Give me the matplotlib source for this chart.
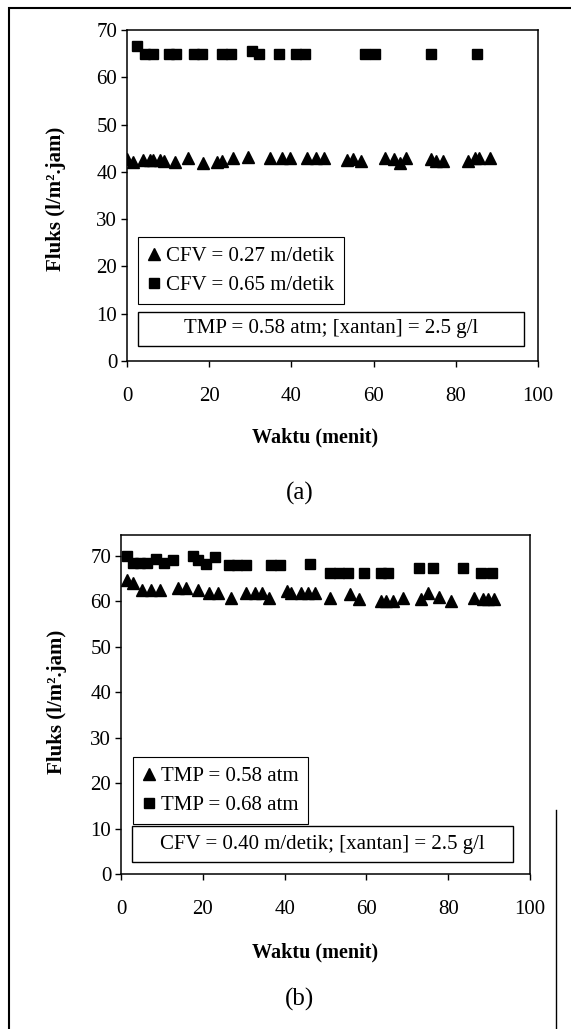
import numpy as np
import matplotlib
matplotlib.use('Agg')
import matplotlib.pyplot as plt
from matplotlib.lines import Line2D
from matplotlib.patches import Rectangle

plt.rcParams['font.family'] = 'Liberation Serif'

# (a) TMP = 0.58 atm, two CFV values
a_tri_x = [0.0, 1.4, 3.9, 5.5, 6.3, 8.0, 9.1, 11.7, 14.8, 18.5, 22.0, 23.2, 25.7, 29.4,
           34.8, 37.7, 39.7, 43.9, 45.9, 48.0, 53.6, 55.0, 57.0, 62.8, 64.9, 66.5, 67.8,
           73.9, 75.2, 76.8, 83.0, 84.7, 85.7, 88.2]
a_tri_y = [42.8, 42.0, 42.6, 42.6, 42.6, 42.6, 42.2, 42.0, 43.0, 41.8, 42.0, 42.4, 43.0, 43.2,
           43.0, 43.0, 43.0, 43.0, 43.0, 43.0, 42.6, 42.8, 42.2, 43.0, 42.8, 41.8, 43.0,
           42.8, 42.3, 42.3, 42.3, 43.0, 43.0, 43.0]
a_sq_x = [2.4, 4.3, 6.3, 10.1, 11.9, 16.2, 18.3, 23.2, 25.3, 30.3, 32.1, 36.9, 41.0, 43.4,
          57.9, 60.3, 73.9, 85.1]
a_sq_y = [66.6, 65, 65, 65, 65, 65, 65, 65, 65, 65.6, 65, 65, 65, 65, 65, 65, 65, 65]

# (b) CFV = 0.40 m/detik, two TMP values
b_tri_x = [1.5, 2.9, 5.1, 7.3, 9.5, 14.0, 15.8, 18.9, 21.6, 23.8, 26.9, 30.5, 32.7, 34.5,
           36.3, 40.7, 41.6, 43.9, 45.6, 47.4, 51.0, 55.9, 58.1, 63.5, 64.8, 66.6, 68.9,
           73.3, 75.1, 77.7, 80.8, 86.2, 88.4, 89.7, 91.1]
b_tri_y = [64.7, 64.0, 62.5, 62.5, 62.5, 63.0, 63.0, 62.5, 61.8, 61.8, 60.8, 61.8, 61.8, 61.8,
           60.8, 62.3, 61.8, 61.8, 61.8, 61.8, 60.8, 61.6, 60.5, 60.0, 60.0, 60.0, 60.8,
           60.5, 61.8, 61.0, 60.0, 60.8, 60.5, 60.5, 60.5]
b_sq_x = [1.5, 2.9, 4.6, 6.4, 8.6, 10.4, 12.7, 17.6, 18.9, 20.7, 22.9, 26.5, 28.3, 30.5,
          36.7, 38.9, 46.1, 51.0, 53.2, 55.4, 59.4, 63.5, 65.2, 72.8, 76.4, 83.5, 88.0, 90.6]
b_sq_y = [69.9, 68.4, 68.4, 68.5, 69.3, 68.4, 69.1, 70.0, 69.0, 68.2, 69.8, 68.0, 68.0, 68.0,
          68.0, 68.0, 68.2, 66.2, 66.2, 66.2, 66.2, 66.2, 66.2, 67.3, 67.3, 67.3, 66.2, 66.2]

W, H = 571, 1029
fig = plt.figure(figsize=(W / 100, H / 100), dpi=100)


def fx(px):
    return px / W


def fy(py):
    return 1 - py / H


def panel(box, ymax, tri, sq, labels, note, note_box, leg_xy, tag_y, tag, xlab_y, ylab_xy):
    left, top, right, bottom = box
    ax = fig.add_axes([fx(left), fy(bottom), fx(right) - fx(left), fy(top) - fy(bottom)])
    ax.plot(tri[0], tri[1], linestyle='none', marker='^', color='black', markersize=9,
            label=labels[0])
    ax.plot(sq[0], sq[1], linestyle='none', marker='s', color='black', markersize=7.5,
            label=labels[1])
    ax.set_xlim(0, 100)
    ax.set_ylim(0, ymax)
    ax.set_xticks(np.arange(0, 101, 20))
    ax.set_yticks(np.arange(0, 71, 10))
    ax.tick_params(direction='out', length=4, width=1, labelsize=15, pad=3)
    ax.tick_params(axis='x', pad=15)
    for s in ax.spines.values():
        s.set_linewidth(1.1)
    fig.text(fx(ylab_xy[0]), fy(ylab_xy[1]), 'Fluks (l/m\u00b2.jam)', fontsize=15,
             fontweight='bold', rotation=90, ha='center', va='center')
    fig.text(fx(315), fy(xlab_y), 'Waktu (menit)', fontsize=14.5, fontweight='bold',
             ha='center', va='center')
    fig.text(fx(300), fy(tag_y), tag, fontsize=18, ha='center', va='center')

    leg = ax.legend(loc='upper left', bbox_to_anchor=(fx(leg_xy[0]), fy(leg_xy[1])),
                    bbox_transform=fig.transFigure, borderaxespad=0, fontsize=15,
                    frameon=True, fancybox=False, edgecolor='black', framealpha=1,
                    handlelength=0.6, handletextpad=0.3, borderpad=0.45, labelspacing=0.45)
    leg.get_frame().set_linewidth(0.8)

    x0, y0, x1, y1 = note_box
    fig.patches.append(Rectangle((fx(x0), fy(y1)), fx(x1) - fx(x0), fy(y0) - fy(y1),
                                 transform=fig.transFigure, fill=True, facecolor='white',
                                 edgecolor='black', linewidth=1, zorder=5))
    fig.text((fx(x0) + fx(x1)) / 2, (fy(y0) + fy(y1)) / 2, note, fontsize=15,
             ha='center', va='center', zorder=6)
    return ax


panel((127, 30, 538, 361), 70,
      (a_tri_x, a_tri_y), (a_sq_x, a_sq_y),
      ['CFV = 0.27 m/detik', 'CFV = 0.65 m/detik'],
      'TMP = 0.58 atm; [xantan] = 2.5 g/l', (138, 312, 524, 346), (138, 237),
      493, '(a)', 437, (56, 199))

panel((121, 535, 530, 874), 74.6,
      (b_tri_x, b_tri_y), (b_sq_x, b_sq_y),
      ['TMP = 0.58 atm', 'TMP = 0.68 atm'],
      'CFV = 0.40 m/detik; [xantan] = 2.5 g/l', (132, 826, 513, 862), (133, 757),
      999, '(b)', 952, (57, 702))

# outer frame
fig.add_artist(Line2D([fx(11), fx(571)], [fy(8), fy(8)], color='black', linewidth=1.5,
                      transform=fig.transFigure))
fig.add_artist(Line2D([fx(9), fx(9)], [fy(8), fy(1029)], color='black', linewidth=1.5,
                      transform=fig.transFigure))
fig.add_artist(Line2D([fx(556), fx(556)], [fy(810), fy(1029)], color='black', linewidth=1,
                      transform=fig.transFigure))

plt.savefig('out.png', dpi=100)
